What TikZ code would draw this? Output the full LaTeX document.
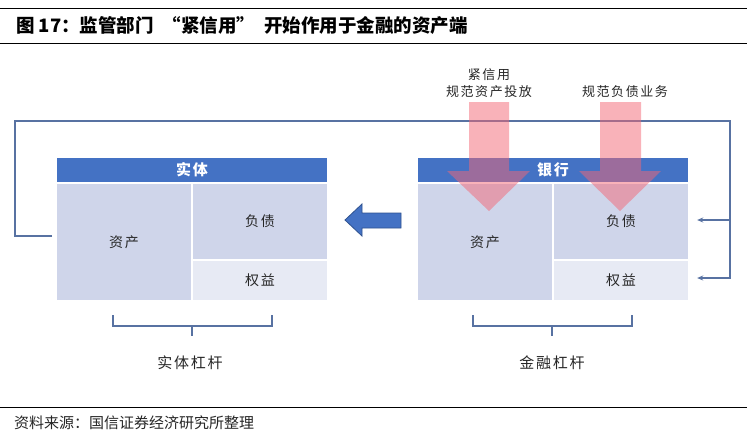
\documentclass[tikz,border=0pt]{standalone}
\usepackage{fontspec}
\newfontfamily\cjk{Noto Sans CJK SC}
\newfontfamily\cjks{Noto Sans CJK SC}[LetterSpace=12]
\usetikzlibrary{arrows.meta}
\definecolor{hdrblue}{HTML}{4472C4}
\definecolor{hdrborder}{HTML}{2F528F}
\definecolor{celllav}{HTML}{CFD5EA}
\definecolor{celllight}{HTML}{E7EAF4}
\definecolor{loopcol}{HTML}{5872A2}
\definecolor{pinkar}{HTML}{F46775}
\begin{document}
\begin{tikzpicture}[x=1pt,y=-1pt,
  cell/.style={rectangle, inner sep=0pt, draw=none, fill=celllav, text=black!85,
    font=\cjks\fontsize{14}{16}\selectfont},
  hdr/.style={rectangle, inner sep=0pt, draw=none, fill=hdrblue, text=white,
    font=\cjks\bfseries\fontsize{15}{17}\selectfont, minimum width=270pt, minimum height=24pt},
  lab/.style={inner sep=0pt, text=black!85, font=\cjks\fontsize{13}{15}\selectfont},
  biglab/.style={inner sep=0pt, text=black!85, font=\cjks\fontsize{15}{17}\selectfont},
  loopline/.style={draw=loopcol, line width=2.4pt, line join=miter},
  branch/.style={draw=loopcol, line width=1.5pt, -{Stealth[length=6pt,width=5pt]}},
  brk/.style={draw=loopcol, line width=1.5pt},
  pinkarrow/.style={fill=pinkar, fill opacity=0.5},
  bluearrow/.style={fill=hdrblue, draw=hdrborder, line width=0.8pt}
]
\useasboundingbox (0,0) rectangle (747,439);
\fill[white] (0,0) rectangle (747,439);

% title
\draw[line width=1.6pt] (0,8.5) -- (747,8.5);
\node[anchor=west, inner sep=0pt, font=\cjk\bfseries\fontsize{18.5}{20}\selectfont] (title) at (16,25.5)
  {图 17：监管部门\hspace{9pt}“紧信用”\hspace{9pt}开始作用于金融的资产端};
\draw[line width=0.8pt] (0,43) -- (747,43);

% left block (entity)
\node[hdr] (hdrL) at (192,170) {实体};
\node[cell, minimum width=134pt, minimum height=116pt] (assetL) at (124,242) {资产};
\node[cell, minimum width=134pt, minimum height=75pt] (liabL) at (260,221.5) {负债};
\node[cell, fill=celllight, minimum width=134pt, minimum height=39pt] (eqL) at (260,280.5) {权益};

% right block (bank)
\node[hdr] (hdrR) at (553,170) {银行};
\node[cell, minimum width=134pt, minimum height=116pt] (assetR) at (485,242) {资产};
\node[cell, minimum width=134pt, minimum height=75pt] (liabR) at (621,221.5) {负债};
\node[cell, fill=celllight, minimum width=134pt, minimum height=39pt] (eqR) at (621,280.5) {权益};

% big blue arrow (bank -> entity)
\draw[bluearrow] (401,213) -- (362,213) -- (362,204) -- (345,220) -- (362,236) -- (362,228) -- (401,228) -- cycle;

% feedback loop
\coordinate (lA) at (52,236);
\coordinate (lB) at (15,121);
\coordinate (lC) at (730,121);
\coordinate (lD) at (730,278);
\coordinate (lE) at (730,220);
\coordinate (liabRtip) at ([xshift=9pt]liabR.east);
\coordinate (eqRtip) at ([xshift=9pt]eqR.east);
\draw[loopline] (lA) -| (lB) -- (lC) -- (lD) -- ([xshift=1pt]lD);
\draw[branch] (lE) -- (liabRtip |- lE);
\draw[branch] (lD) -- (eqRtip |- lD);

% pink policy arrows
\fill[pinkarrow] (469,102) -- (509,102) -- (509,171) -- (530,171) -- (489,211) -- (447,171) -- (469,171) -- cycle;
\fill[pinkarrow] (600,102) -- (641,102) -- (641,171) -- (661,171) -- (620,211) -- (579,171) -- (600,171) -- cycle;
\node[lab] (t1) at (489,75) {紧信用};
\node[lab] (t2) at (489,92) {规范资产投放};
\node[lab] (t3) at (625,92) {规范负债业务};

% brackets
\draw[brk] (113,315) |- (272,326) -- (272,315);
\draw[brk] (192,326) -- (192,336);
\draw[brk] (473,315) |- (632,326) -- (632,315);
\draw[brk] (552,326) -- (552,336);
\node[biglab] (levL) at (190,363) {实体杠杆};
\node[biglab] (levR) at (552,363) {金融杠杆};

% source
\draw[line width=1pt] (0,407) -- (747,407);
\node[anchor=west, inner sep=0pt, text=black!85, font=\cjk\fontsize{15}{17}\selectfont] (src) at (14,423)
  {资料来源：国信证券经济研究所整理};
\end{tikzpicture}
\end{document}
